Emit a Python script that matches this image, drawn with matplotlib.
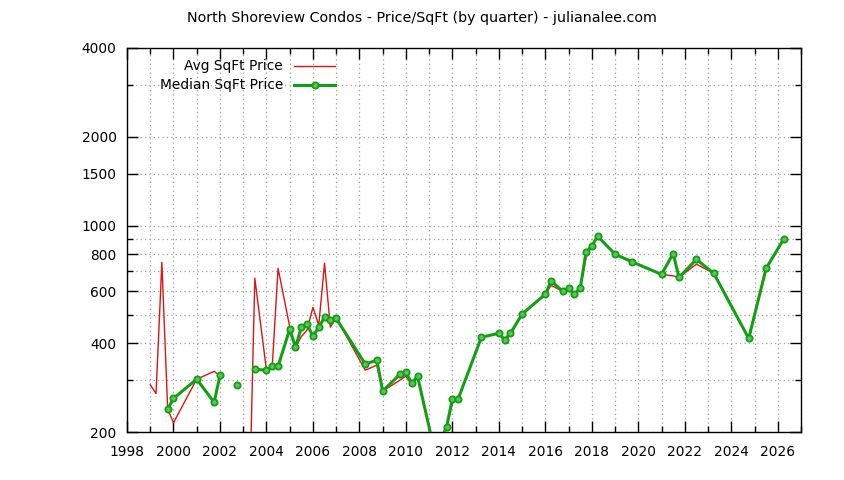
import numpy as np
import matplotlib
matplotlib.use('Agg')
import matplotlib.pyplot as plt
from matplotlib.ticker import FixedLocator, NullFormatter, FixedFormatter
from matplotlib.lines import Line2D

nan = np.nan

# average price / sqft by quarter (nan = break in the line)
avg_years = [1999.0, 1999.25, 1999.5, 1999.75, 2000.0, 2001.0, 2001.75, 2002.0, 2002.5,
             2003.25, 2003.5, 2004.0, 2004.25, 2004.5, 2005.0, 2005.25, 2005.5, 2005.75,
             2006.0, 2006.25, 2006.5, 2006.75, 2007.0, 2008.25, 2008.75, 2009.0, 2009.75,
             2010.0, 2010.25, 2010.5, 2011.25, 2011.75, 2012.0, 2012.25, 2013.25, 2014.0,
             2014.25, 2014.5, 2015.0, 2016.0, 2016.25, 2016.75, 2017.0, 2017.25, 2017.5,
             2017.75, 2018.0, 2018.25, 2019.0, 2019.75, 2021.0, 2021.5, 2021.75, 2022.5,
             2023.25, 2024.75, 2025.5, 2026.25]
avg_price = [289, 270, 751, 239, 215, 302, 321, 310, nan,
             100, 664, 324, 334, 717, 455, 387, 421, 443,
             529, 460, 746, 453, 488, 324, 337, 275, 300,
             309, 290, 309, 170, 205, 251, 259, 419, 432,
             405, 432, 502, 586, 628, 599, 613, 586, 613,
             780, 854, 921, 801, 753, 684, 676, 668, 741,
             689, 415, 717, 899]

# median price / sqft by quarter
med_years = [1999.75, 2000.0, 2001.0, 2001.75, 2002.0, 2002.5, 2002.75, 2003.25,
             2003.5, 2004.0, 2004.25, 2004.5, 2005.0, 2005.25, 2005.5, 2005.75,
             2006.0, 2006.25, 2006.5, 2006.75, 2007.0, 2008.25, 2008.75, 2009.0,
             2009.75, 2010.0, 2010.25, 2010.5, 2011.25, 2011.75, 2012.0, 2012.25,
             2013.25, 2014.0, 2014.25, 2014.5, 2015.0, 2016.0, 2016.25, 2016.75,
             2017.0, 2017.25, 2017.5, 2017.75, 2018.0, 2018.25, 2019.0, 2019.75,
             2021.0, 2021.5, 2021.75, 2022.5, 2023.25, 2024.75, 2025.5, 2026.25]
med_price = [239, 260, 302, 252, 311, nan, 288, nan,
             326, 324, 334, 334, 446, 387, 453, 463,
             422, 453, 489, 478, 485, 340, 350, 275,
             314, 319, 292, 309, 170, 208, 259, 259,
             419, 432, 411, 432, 502, 586, 650, 599,
             613, 586, 613, 812, 854, 921, 801, 753,
             684, 805, 668, 769, 689, 415, 717, 899]

y_major = [200, 400, 600, 800, 1000, 1500, 2000, 4000]
y_minor = [300, 500, 700, 900, 3000]
x_major = list(range(1998, 2028, 2))
x_minor = list(range(1999, 2028, 2))

red = '#dc1414'
green = '#12a012'

plt.rcParams['font.family'] = 'DejaVu Sans'
plt.rcParams['font.size'] = 9.9

fig = plt.figure(figsize=(8.44, 4.8), dpi=100)
ax = fig.add_axes([127 / 844, 0.1, 674 / 844, 0.8])

ax.plot(avg_years, avg_price, color=red, lw=1.0, zorder=3)
ax.plot(med_years, med_price, color=green, lw=2.2, marker='o', ms=4.5,
        mfc='#5cc45c', mec=green, mew=1.3, zorder=4)

ax.set_yscale('log')
ax.set_ylim(200, 4000)
ax.set_xlim(1998, 2027)

ax.yaxis.set_major_locator(FixedLocator(y_major))
ax.yaxis.set_major_formatter(FixedFormatter([str(v) for v in y_major]))
ax.yaxis.set_minor_locator(FixedLocator(y_minor))
ax.yaxis.set_minor_formatter(NullFormatter())
ax.xaxis.set_major_locator(FixedLocator(x_major))
ax.xaxis.set_minor_locator(FixedLocator(x_minor))

ax.tick_params(which='both', direction='in', top=True, right=True, width=1, colors='black')
ax.tick_params(which='major', length=8)
ax.tick_params(which='minor', length=4)
ax.tick_params(axis='x', which='major', pad=9.5)
ax.tick_params(axis='y', which='major', pad=7.5)
for s in ax.spines.values():
    s.set_linewidth(1)

ax.grid(True, which='both', color='#a0a0a0', lw=0.9, linestyle=(0, (1, 2.5)))

fig.text(0.5, 1 - 18 / 480, 'North Shoreview Condos - Price/SqFt (by quarter) - julianalee.com',
         ha='center', va='center', fontsize=10.3)

# gnuplot-style key: right-aligned text, sample to the right
ax.text(0.2315, 0.953, 'Avg SqFt Price', transform=ax.transAxes, ha='right', va='center',
        fontsize=9.9)
ax.text(0.2315, 0.904, 'Median SqFt Price', transform=ax.transAxes, ha='right', va='center',
        fontsize=9.9)
ax.add_line(Line2D([0.2478, 0.3086], [0.953, 0.953], transform=ax.transAxes,
                   color=red, lw=1.0))
ax.add_line(Line2D([0.2478, 0.3086], [0.904, 0.904], transform=ax.transAxes,
                   color=green, lw=2.2))
ax.add_line(Line2D([0.2782], [0.904], transform=ax.transAxes, color=green, marker='o',
                   ms=4.5, mfc='#5cc45c', mec=green, mew=1.3))

fig.savefig('out.png', dpi=100)
